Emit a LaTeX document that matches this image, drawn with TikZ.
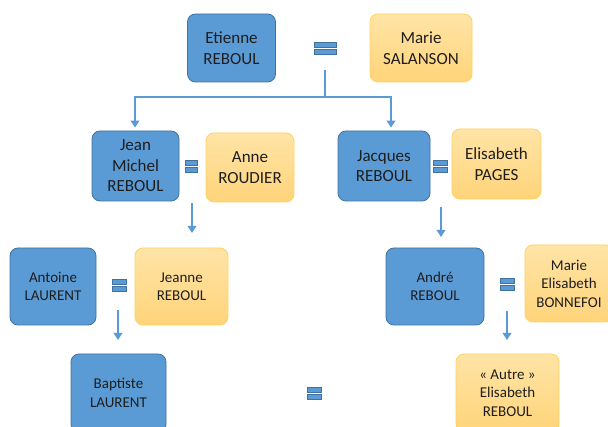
\documentclass[tikz,border=0pt]{standalone}
\usepackage{fontspec}
\setmainfont{Carlito}
\usetikzlibrary{arrows.meta}
\definecolor{bfill}{HTML}{5B9BD5}
\definecolor{bdraw}{HTML}{41719C}
\definecolor{otop}{HTML}{FFE4A6}
\definecolor{obot}{HTML}{FFD47A}
\definecolor{odraw}{HTML}{FFD35E}
\definecolor{txt}{HTML}{1E1E1E}
\tikzset{
  person/.style={rounded corners=8pt, align=center, text=txt,
    font=\fontsize{17}{20.5}\selectfont, inner sep=0pt, line width=0.8pt},
  small/.style={font=\fontsize{15}{18.5}\selectfont},
  man/.style={person, fill=bfill, draw=bdraw},
  woman/.style={person, top color=otop, bottom color=obot, draw=odraw},
  eqbar/.style={fill=bfill, draw=bdraw, line width=0.5pt, minimum width=#1,
    minimum height=5pt, inner sep=0pt},
  conn/.style={draw=bfill, line width=2.3pt},
  arr/.style={conn, -{Triangle[length=7pt,width=8.5pt]}},
}
\begin{document}
\begin{tikzpicture}[x=1pt,y=-1pt]
\clip (0,0) rectangle (608,427);
\fill[white] (0,0) rectangle (608,427);

% generation 1
\node[man, minimum width=88pt, minimum height=68pt] (E) at (231.5,48) {Etienne\\REBOUL};
\node[woman, minimum width=102pt, minimum height=68pt] (M) at (421,48) {Marie\\SALANSON};
\node[eqbar=22pt] (eq1a) at (325,44.5) {};
\node[eqbar=22pt] (eq1b) at (325,51.5) {};

% generation 2
\node[man, minimum width=87pt, minimum height=70pt] (JM) at (135.5,166) {Jean\\Michel\\REBOUL};
\node[woman, minimum width=88pt, minimum height=69pt] (A) at (250,167.5) {Anne\\ROUDIER};
\node[eqbar=12pt] (eq2a) at (191,163) {};
\node[eqbar=12pt] (eq2b) at (191,170) {};
\node[man, minimum width=92pt, minimum height=70pt] (J) at (384,166) {Jacques\\REBOUL};
\node[woman, minimum width=89pt, minimum height=70pt] (EP) at (496.5,164) {Elisabeth\\PAGES};
\node[eqbar=14pt] (eq3a) at (440.5,162.5) {};
\node[eqbar=14pt] (eq3b) at (440.5,169.5) {};

% generation 3
\node[man, small, minimum width=86pt, minimum height=77pt] (AL) at (53,286.5) {Antoine\\LAURENT};
\node[woman, small, minimum width=93pt, minimum height=77pt] (JR) at (181.5,286.5) {Jeanne\\REBOUL};
\node[eqbar=14pt] (eq4a) at (119,282) {};
\node[eqbar=14pt] (eq4b) at (119,289) {};
\node[man, small, minimum width=98pt, minimum height=77pt] (AR) at (435,286.5) {André\\REBOUL};
\node[woman, small, minimum width=88pt, minimum height=77pt] (MEB) at (569,283.5) {Marie\\Elisabeth\\BONNEFOI};
\node[eqbar=14pt] (eq5a) at (507,280.5) {};
\node[eqbar=14pt] (eq5b) at (507,287.5) {};

% generation 4
\node[man, small, minimum width=95pt, minimum height=78pt] (BL) at (118.5,393) {Baptiste\\LAURENT};
\node[woman, small, minimum width=103pt, minimum height=78pt] (AE) at (507.5,393) {« Autre »\\Elisabeth\\REBOUL};
\node[eqbar=14pt] (eq6a) at (314,389.5) {};
\node[eqbar=14pt] (eq6b) at (314,396.5) {};

% connectors
\coordinate (fork) at (325,70);
\coordinate (junction) at (325,97);
\draw[conn] (fork) -- (junction);
\draw[arr, shorten >=3pt] (junction) -| ([xshift=-0.5pt]JM.north);
\draw[arr, shorten >=3pt] (junction) -| ([xshift=7pt]J.north);

\coordinate (a1s) at (192,203); \coordinate (a1e) at (192,233);
\coordinate (a2s) at (441,207); \coordinate (a2e) at (441,237);
\coordinate (a3s) at (118,310); \coordinate (a3e) at (118,340);
\coordinate (a4s) at (507,311); \coordinate (a4e) at (507,340);
\draw[arr] (a1s) -- (a1e);
\draw[arr] (a2s) -- (a2e);
\draw[arr] (a3s) -- (a3e);
\draw[arr] (a4s) -- (a4e);
\end{tikzpicture}
\end{document}
